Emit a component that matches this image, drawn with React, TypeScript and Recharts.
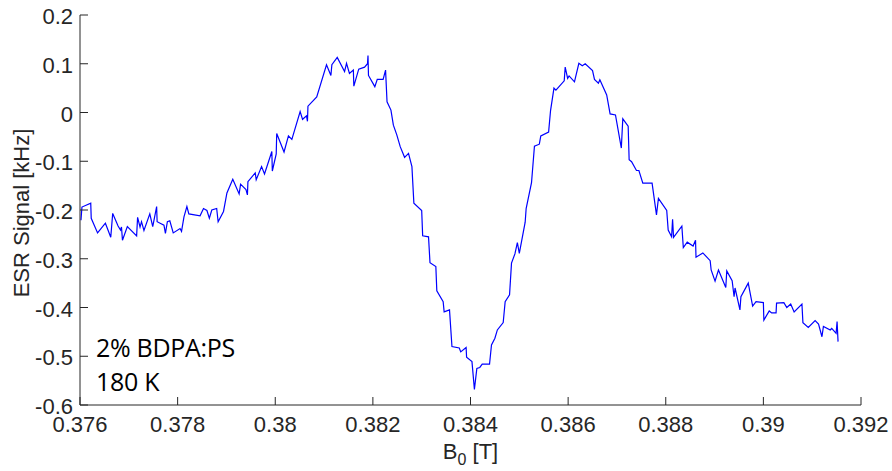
import React from 'react';
import { LineChart, Line, XAxis, YAxis, Customized } from 'recharts';

const fieldT = [
  0.37602, 0.37604, 0.37622, 0.37623, 0.37636, 0.37652, 0.37663, 0.37667, 0.37678, 0.37683,
  0.37685, 0.37687, 0.37697, 0.37716, 0.37718, 0.37723, 0.37726, 0.37731, 0.37743, 0.37749,
  0.37757, 0.37758, 0.37772, 0.37775, 0.37779, 0.37784, 0.37791, 0.37805, 0.37808, 0.37813,
  0.37819, 0.37823, 0.37846, 0.37853, 0.3786, 0.37865, 0.3787, 0.3788, 0.37883, 0.37894,
  0.37901, 0.37913, 0.37926, 0.37929, 0.3794, 0.37943, 0.37944, 0.37959, 0.37961, 0.37972,
  0.37978, 0.37993, 0.37994, 0.38002, 0.38003, 0.38018, 0.38027, 0.38034, 0.38051, 0.38056,
  0.38064, 0.38066, 0.38067, 0.38085, 0.38105, 0.38114, 0.38116, 0.38127, 0.38142, 0.38146,
  0.38152, 0.3816, 0.38161, 0.38171, 0.38183, 0.38189, 0.3819, 0.38191, 0.38204, 0.38209,
  0.38221, 0.38226, 0.38229, 0.38237, 0.38242, 0.38249, 0.38256, 0.38265, 0.38273, 0.3828,
  0.38284, 0.383, 0.38302, 0.38314, 0.38317, 0.38329, 0.38331, 0.38344, 0.38346, 0.38357,
  0.38362, 0.38377, 0.3838, 0.38391, 0.38392, 0.38403, 0.38408, 0.38413, 0.38419, 0.38424,
  0.38439, 0.38443, 0.3845, 0.38455, 0.38467, 0.38471, 0.3848, 0.38484, 0.38491, 0.38496,
  0.385, 0.38512, 0.38514, 0.38525, 0.38531, 0.38541, 0.38544, 0.3856, 0.38564, 0.38571,
  0.38575, 0.38592, 0.38594, 0.38599, 0.38602, 0.38613, 0.38622, 0.38629, 0.38635, 0.3865,
  0.38654, 0.38662, 0.38665, 0.38679, 0.38686, 0.38697, 0.38709, 0.38712, 0.38723, 0.38725,
  0.3873, 0.3874, 0.38745, 0.38753, 0.38772, 0.38781, 0.38785, 0.38802, 0.38805, 0.38812,
  0.38814, 0.38816, 0.38833, 0.38836, 0.38844, 0.38856, 0.38861, 0.38862, 0.38876, 0.38891,
  0.38893, 0.38901, 0.38908, 0.38923, 0.38925, 0.38936, 0.3894, 0.38942, 0.38952, 0.38954,
  0.38969, 0.38978, 0.38985, 0.39, 0.39001, 0.39012, 0.39017, 0.39026, 0.39027, 0.39042,
  0.39048, 0.39056, 0.39063, 0.39079, 0.39081, 0.39092, 0.39106, 0.39113, 0.3912, 0.39123,
  0.39137, 0.3914, 0.39149, 0.39151, 0.39153,
];

const signalKHz = [
  -0.221, -0.194, -0.186, -0.217, -0.247, -0.227, -0.256, -0.207, -0.233, -0.241,
  -0.235, -0.262, -0.234, -0.253, -0.215, -0.235, -0.224, -0.242, -0.208, -0.234,
  -0.193, -0.224, -0.231, -0.248, -0.224, -0.222, -0.247, -0.238, -0.244, -0.214,
  -0.193, -0.208, -0.212, -0.197, -0.201, -0.217, -0.2, -0.197, -0.224, -0.203,
  -0.165, -0.137, -0.167, -0.147, -0.158, -0.169, -0.142, -0.124, -0.138, -0.111,
  -0.126, -0.08, -0.12, -0.085, -0.043, -0.081, -0.048, -0.055, 0.002, -0.014,
  -0.007, -0.018, 0.013, 0.032, 0.098, 0.076, 0.098, 0.113, 0.084, 0.101,
  0.08, 0.087, 0.054, 0.089, 0.093, 0.1, 0.117, 0.076, 0.053, 0.068,
  0.068, 0.087, 0.022, 0.005, -0.026, -0.046, -0.07, -0.092, -0.084, -0.111,
  -0.186, -0.201, -0.253, -0.255, -0.308, -0.316, -0.366, -0.388, -0.409, -0.405,
  -0.48, -0.483, -0.491, -0.482, -0.502, -0.511, -0.568, -0.525, -0.523, -0.516,
  -0.516, -0.477, -0.463, -0.446, -0.431, -0.388, -0.374, -0.309, -0.29, -0.267,
  -0.289, -0.225, -0.197, -0.144, -0.069, -0.065, -0.048, -0.04, 0.004, 0.05,
  0.046, 0.065, 0.093, 0.07, 0.075, 0.063, 0.101, 0.096, 0.1, 0.086,
  0.068, 0.06, 0.067, 0.036, -0.003, -0.005, -0.073, -0.013, -0.028, -0.097,
  -0.101, -0.119, -0.119, -0.145, -0.145, -0.21, -0.176, -0.201, -0.241, -0.255,
  -0.219, -0.256, -0.233, -0.277, -0.266, -0.274, -0.262, -0.297, -0.288, -0.304,
  -0.323, -0.346, -0.323, -0.359, -0.325, -0.345, -0.378, -0.36, -0.405, -0.378,
  -0.35, -0.397, -0.388, -0.39, -0.426, -0.407, -0.411, -0.411, -0.391, -0.39,
  -0.4, -0.393, -0.409, -0.393, -0.431, -0.441, -0.427, -0.434, -0.46, -0.439,
  -0.446, -0.443, -0.453, -0.429, -0.47,
];

const xTicks = [0.376, 0.378, 0.38, 0.382, 0.384, 0.386, 0.388, 0.39, 0.392];
const yTicks = [-0.6, -0.5, -0.4, -0.3, -0.2, -0.1, 0, 0.1, 0.2];
const xDomain = [0.376, 0.392];
const yDomain = [-0.6, 0.2];
const annotationLines = ['2% BDPA:PS', '180 K'];
const yAxisTitle = 'ESR Signal [kHz]';

const data = fieldT.map((x, i) => ({ x, y: signalKHz[i] }));

const AXIS = '#262626';
const TICK_LEN = 8;
const FONT = '"Liberation Sans", Arial, Helvetica, sans-serif';

const BottomTick = (p: any) => (
  <g>
    <line x1={p.x} x2={p.x} y1={p.y} y2={p.y - TICK_LEN} stroke={AXIS} strokeWidth={1} />
    <text x={p.x} y={p.y + 27} textAnchor="middle" fill={AXIS} fontSize={22} fontFamily={FONT}>
      {String(p.payload.value)}
    </text>
  </g>
);

const TopTick = (p: any) => (
  <line x1={p.x} x2={p.x} y1={p.y} y2={p.y + TICK_LEN} stroke={AXIS} strokeWidth={1} />
);

const LeftTick = (p: any) => (
  <g>
    <line x1={p.x} x2={p.x + TICK_LEN} y1={p.y} y2={p.y} stroke={AXIS} strokeWidth={1} />
    <text x={p.x - 7} y={p.y} dy="0.42em" textAnchor="end" fill={AXIS} fontSize={22} fontFamily={FONT}>
      {String(p.payload.value)}
    </text>
  </g>
);

const RightTick = (p: any) => (
  <line x1={p.x} x2={p.x - TICK_LEN} y1={p.y} y2={p.y} stroke={AXIS} strokeWidth={1} />
);

const Texts = () => (
  <g>
    <text
      x={29}
      y={213}
      transform="rotate(-90, 29, 213)"
      textAnchor="middle"
      fill={AXIS}
      fontSize={22}
      fontFamily={FONT}
    >
      {yAxisTitle}
    </text>
    <text x={470.5} y={459} textAnchor="middle" fill={AXIS} fontSize={22} fontFamily={FONT}>
      <tspan>B</tspan>
      <tspan dy={6} fontSize={16}>0</tspan>
      <tspan dy={-6}> [T]</tspan>
    </text>
    {annotationLines.map((t, i) => (
      <text
        key={t}
        x={96}
        y={357 + i * 34}
        fill="#000"
        fontSize={25}
        fontFamily='"Open Sans", "Noto Sans", sans-serif'
        letterSpacing={-0.3}
      >
        {t}
      </text>
    ))}
  </g>
);

export default function App() {
  return (
    <div style={{ position: 'absolute', left: 0, top: 0, width: 892, height: 471, background: '#fff' }}>
      <LineChart width={892} height={471} data={data} margin={{ top: 15, right: 31, bottom: 0, left: 0 }}>
        <XAxis
          xAxisId="b"
          dataKey="x"
          type="number"
          domain={xDomain}
          ticks={xTicks}
          allowDataOverflow
          height={66}
          tickSize={0}
          tickMargin={0}
          tickLine={false}
          axisLine={{ stroke: AXIS, strokeWidth: 1 }}
          tick={<BottomTick />}
          interval={0}
        />
        <XAxis
          xAxisId="t"
          orientation="top"
          dataKey="x"
          type="number"
          domain={xDomain}
          ticks={xTicks}
          allowDataOverflow
          height={0}
          tickSize={0}
          tickMargin={0}
          tickLine={false}
          axisLine={{ stroke: AXIS, strokeWidth: 1 }}
          tick={<TopTick />}
          interval={0}
        />
        <YAxis
          yAxisId="l"
          type="number"
          domain={yDomain}
          ticks={yTicks}
          allowDataOverflow
          width={80}
          tickSize={0}
          tickMargin={0}
          tickLine={false}
          axisLine={{ stroke: AXIS, strokeWidth: 1 }}
          tick={<LeftTick />}
          interval={0}
        />
        <YAxis
          yAxisId="r"
          orientation="right"
          type="number"
          domain={yDomain}
          ticks={yTicks}
          allowDataOverflow
          width={0}
          tickSize={0}
          tickMargin={0}
          tickLine={false}
          axisLine={{ stroke: AXIS, strokeWidth: 1 }}
          tick={<RightTick />}
          interval={0}
        />
        <Line
          xAxisId="b"
          yAxisId="l"
          dataKey="y"
          type="linear"
          stroke="#0000ff"
          strokeWidth={1.2}
          dot={false}
          activeDot={false}
          isAnimationActive={false}
        />
        <Customized component={Texts} />
      </LineChart>
    </div>
  );
}
